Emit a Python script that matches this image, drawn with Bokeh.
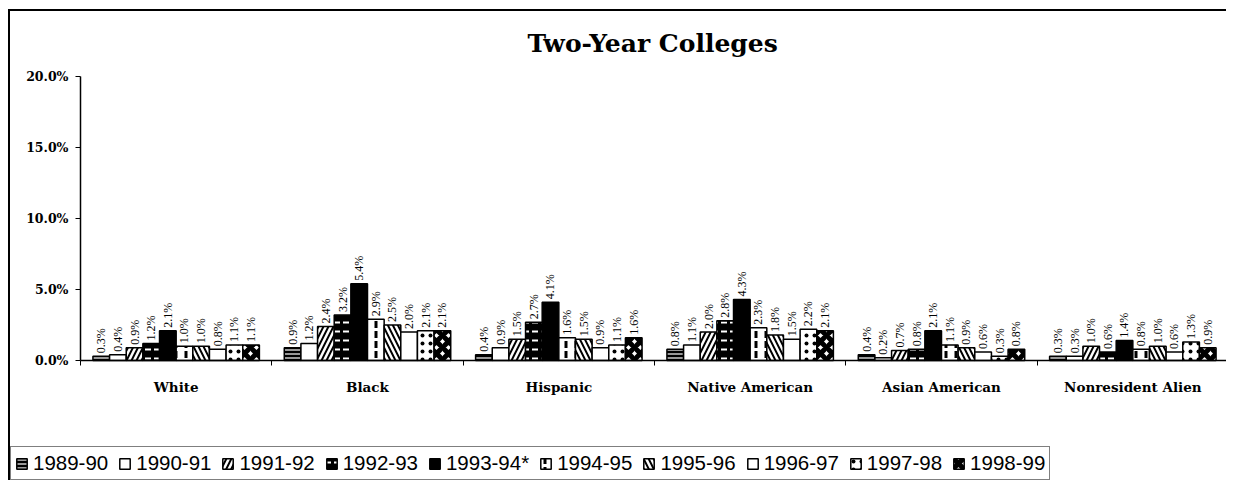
import math
from bokeh.plotting import figure
from bokeh.models import (ColumnDataSource, Range1d, FixedTicker, LabelSet, Legend, LegendItem,
                          PrintfTickFormatter)
from bokeh.embed import file_html
from bokeh.resources import INLINE

groups = ["White", "Black", "Hispanic", "Native American", "Asian American", "Nonresident Alien"]
years = ["1989-90", "1990-91", "1991-92", "1992-93", "1993-94*",
         "1994-95", "1995-96", "1996-97", "1997-98", "1998-99"]

white = [0.3, 0.4, 0.9, 1.2, 2.1, 1.0, 1.0, 0.8, 1.1, 1.1]
black = [0.9, 1.2, 2.4, 3.2, 5.4, 2.9, 2.5, 2.0, 2.1, 2.1]
hispanic = [0.4, 0.9, 1.5, 2.7, 4.1, 1.6, 1.5, 0.9, 1.1, 1.6]
native_american = [0.8, 1.1, 2.0, 2.8, 4.3, 2.3, 1.8, 1.5, 2.2, 2.1]
asian_american = [0.4, 0.2, 0.7, 0.8, 2.1, 1.1, 0.9, 0.6, 0.3, 0.8]
nonresident_alien = [0.3, 0.3, 1.0, 0.6, 1.4, 0.8, 1.0, 0.6, 1.3, 0.9]

group_values = [white, black, hispanic, native_american, asian_american, nonresident_alien]
y_ticks = [0, 5, 10, 15, 20]

# style per series: (fill, hatch_pattern, hatch_color, hatch_scale, hatch_weight)
styles = [
    ("black", "horizontal_line", "white", 4, 1.2),
    ("white", None, "black", 12, 1),
    ("black", "right_diagonal_line", "white", 10, 2.5),
    ("black", "horizontal_dash", "white", 9, 2),
    ("black", None, "black", 12, 1),
    ("white", "vertical_dash", "black", 10, 3),
    ("black", "left_diagonal_line", "white", 10, 2.5),
    ("white", None, "black", 12, 1),
    ("white", "dot", "black", 8, 2),
    ("white", "diagonal_cross", "black", 12, 5),
]

SERIF = "DejaVu Serif"

# frame spans the whole area under the title so that the legend below the axis is not clipped
# x: 0 -> px 80, 6 -> px 1228, frame left at px 10 ; y: 20 -> px 76, 0 -> px 360
px_per_x = 1148 / 6
px_per_y = 284 / 20
x_min = -70 / px_per_x
y_min = -122 / px_per_y
y_max = 20 + 12 / px_per_y

p = figure(width=1218, height=471, output_backend="svg", toolbar_location=None,
           x_range=Range1d(x_min, len(groups)), y_range=Range1d(y_min, y_max),
           min_border_left=0, min_border_right=0, min_border_top=53, min_border_bottom=0,
           title="Two-Year Colleges")
p.styles = {"margin-left": "8px", "margin-top": "9px",
            "border-left": "2px solid black", "border-top": "2px solid black"}
p.outline_line_color = None
p.background_fill_color = "white"
p.border_fill_color = "white"
p.xgrid.visible = False
p.ygrid.visible = False

p.title.align = "left"
p.title.offset = 517
p.title.text_font = SERIF
p.title.text_font_style = "bold"
p.title.text_font_size = "25px"
p.title.text_color = "black"
p.title.standoff = 14

bw = 0.087
renderers = []
lab_x, lab_y, lab_t = [], [], []
for j, yr in enumerate(years):
    xs = [g + 0.5 + (j - 4.5) * bw for g in range(len(groups))]
    ys = [gv[j] for gv in group_values]
    src = ColumnDataSource(dict(x=xs, top=ys))
    fill, hp, hc, hs, hw = styles[j]
    kw = dict(fill_color=fill, line_color="black", line_width=1.5)
    if hp:
        kw.update(hatch_pattern=hp, hatch_color=hc, hatch_scale=hs, hatch_weight=hw)
    r = p.vbar(x="x", top="top", width=bw, bottom=0, source=src, **kw)
    renderers.append(r)
    lab_x += xs
    lab_y += ys
    lab_t += [f"{v:.1f}%" for v in ys]

lsrc = ColumnDataSource(dict(x=lab_x, y=lab_y, t=lab_t))
p.add_layout(LabelSet(x="x", y="y", text="t", source=lsrc, angle=math.pi / 2,
                      text_align="left", text_baseline="middle", y_offset=3,
                      text_font=SERIF, text_font_size="12px", text_color="black"))

# axes
p.yaxis.fixed_location = 0
p.yaxis.bounds = (0, 20)
p.yaxis.ticker = FixedTicker(ticks=y_ticks, minor_ticks=[])
p.yaxis.formatter = PrintfTickFormatter(format="%.1f%%")
p.yaxis.major_label_text_font = SERIF
p.yaxis.major_label_text_font_style = "bold"
p.yaxis.major_label_text_font_size = "12.5px"
p.yaxis.major_label_text_color = "black"
p.yaxis.major_tick_out = 5
p.yaxis.major_tick_in = 0
p.yaxis.major_tick_line_color = "black"
p.yaxis.axis_line_color = "black"
p.yaxis.axis_line_width = 1.5
p.yaxis.major_label_standoff = 7

p.xaxis.fixed_location = 0
p.xaxis.bounds = (0, len(groups))
p.xaxis.ticker = FixedTicker(ticks=[g + 0.5 for g in range(len(groups))],
                             minor_ticks=list(range(len(groups) + 1)))
p.xaxis.major_label_overrides = {g + 0.5: name for g, name in enumerate(groups)}
p.xaxis.major_tick_out = 0
p.xaxis.major_tick_in = 0
p.xaxis.minor_tick_out = 5
p.xaxis.minor_tick_in = 0
p.xaxis.minor_tick_line_color = "black"
p.xaxis.axis_line_color = "black"
p.xaxis.axis_line_width = 1.5
p.xaxis.major_label_text_font = SERIF
p.xaxis.major_label_text_font_style = "bold"
p.xaxis.major_label_text_font_size = "13.5px"
p.xaxis.major_label_text_color = "black"
p.xaxis.major_label_standoff = 13

legend = Legend(items=[LegendItem(label=yr, renderers=[r]) for yr, r in zip(years, renderers)],
                orientation="horizontal", location=(0, 2),
                label_text_font="Liberation Sans", label_text_font_size="20.5px",
                label_text_color="black",
                glyph_width=13, glyph_height=13, label_standoff=5, spacing=10,
                padding=4, margin=0, border_line_color="black", border_line_width=1.5,
                background_fill_alpha=1)
p.add_layout(legend, "center")

open("out.html", "w").write(file_html(p, INLINE))
